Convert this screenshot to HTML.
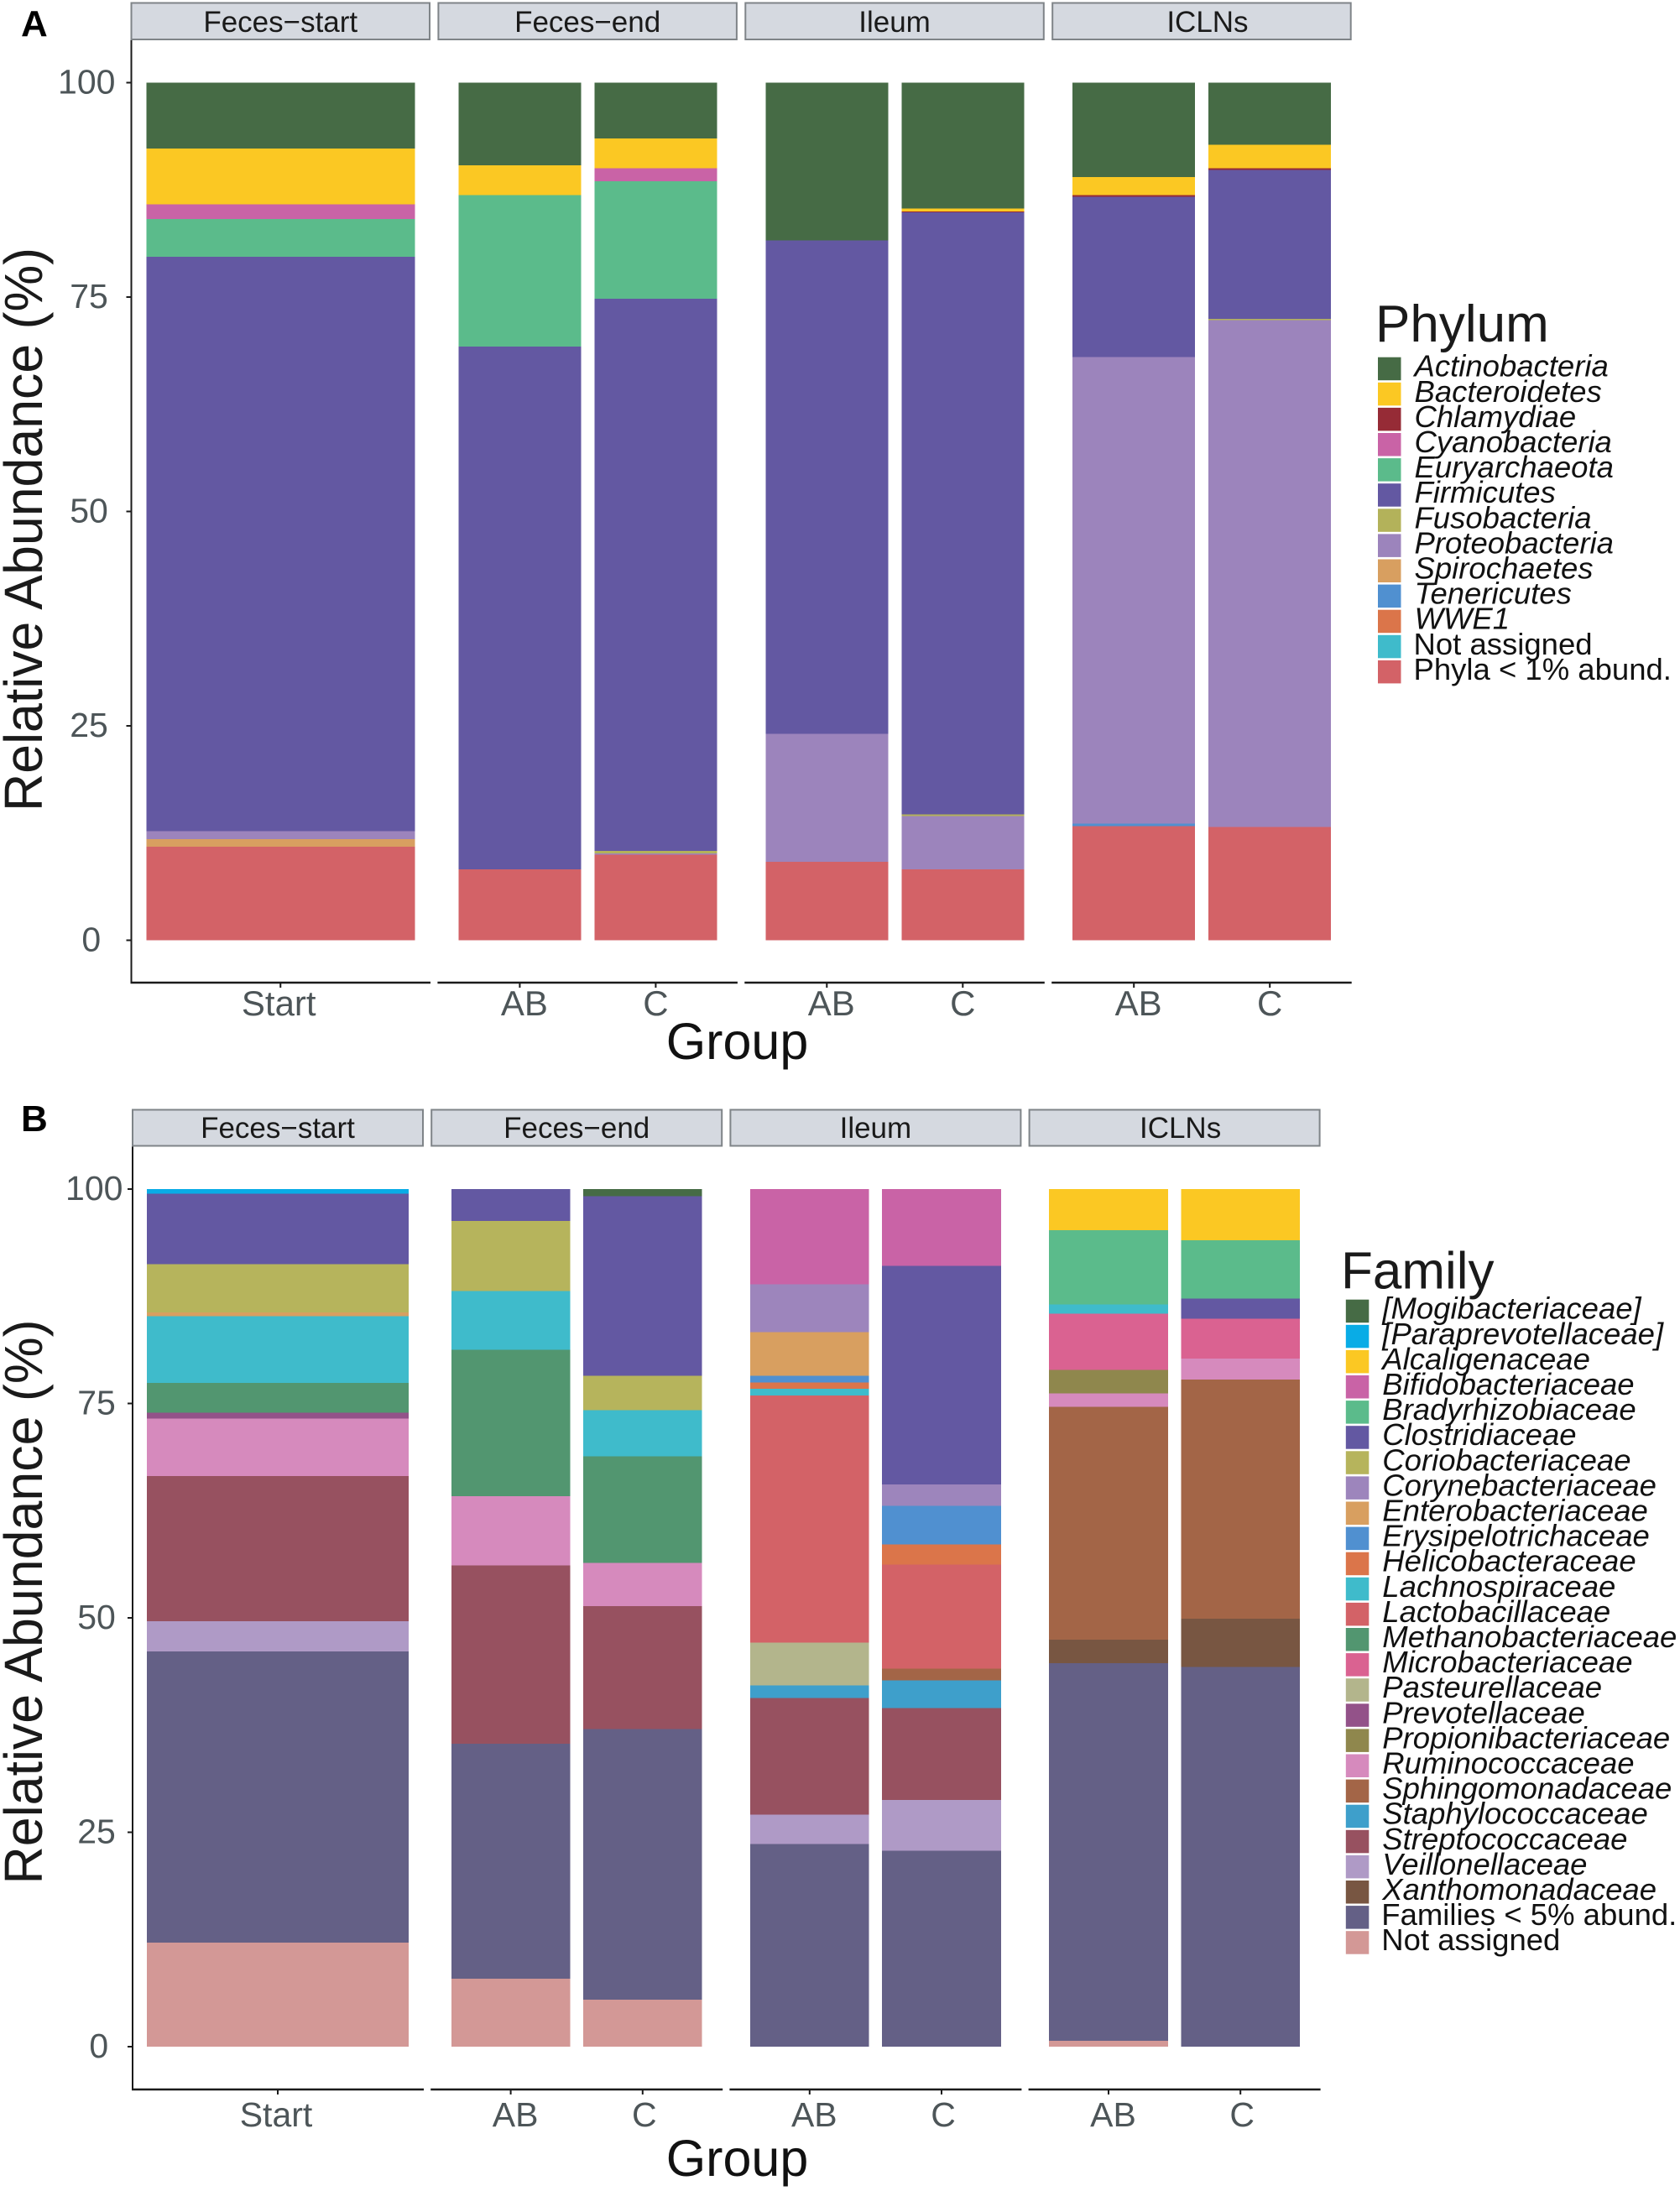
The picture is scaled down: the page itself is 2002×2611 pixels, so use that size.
<!DOCTYPE html>
<html lang="en">
<head>
<meta charset="utf-8">
<title>Relative abundance by phylum and family</title>
<style>
html,body{margin:0;padding:0;background:#fff;}
svg{display:block;font-family:"Liberation Sans",Arial,sans-serif;}
</style>
</head>
<body>
<svg id="fig" xmlns="http://www.w3.org/2000/svg" width="2002" height="2611" viewBox="0 0 2002 2611">
<rect x="0" y="0" width="2002" height="2611" fill="#ffffff"/>
<text x="25" y="43" font-size="44" font-weight="700" fill="#000">A</text>
<text x="25" y="1348" font-size="44" font-weight="700" fill="#000">B</text>
<g id="chartA"></g>
<g id="chartB"></g>
</svg>
<script>
// ---------- shared categories ----------
const facets = ["Feces\u2212start", "Feces\u2212end", "Ileum", "ICLNs"];
const facetGroups = [["Start"], ["AB", "C"], ["AB", "C"], ["AB", "C"]];
const yTickValues = [0, 25, 50, 75, 100];

// ---------- panel A: phylum ----------
const phylumNames = ["Actinobacteria","Bacteroidetes","Chlamydiae","Cyanobacteria","Euryarchaeota","Firmicutes","Fusobacteria","Proteobacteria","Spirochaetes","Tenericutes","WWE1","Not assigned","Phyla < 1% abund."];
const phylumFecesStart = [7.7,6.5,0,1.7,4.4,67,0,0.9,0.9,0,0,0,10.9];
const phylumFecesEndAB = [9.65,3.45,0,0,17.65,60.97,0,0,0,0,0,0,8.28];
const phylumFecesEndC  = [6.5,3.5,0,1.5,13.7,64.4,0.25,0.15,0,0,0,0,10];
const phylumIleumAB    = [18.4,0,0,0,0,57.54,0,14.89,0,0,0,0,9.17];
const phylumIleumC     = [14.7,0.3,0.1,0,0,70.2,0.23,6.19,0,0,0,0,8.28];
const phylumIclnAB     = [11,2.1,0.2,0,0,18.7,0,54.4,0,0.3,0,0,13.3];
const phylumIclnC      = [7.25,2.75,0.2,0,0,17.35,0.15,59.1,0,0,0,0,13.2];

// ---------- panel B: family ----------
const familyNames = ["[Mogibacteriaceae]","[Paraprevotellaceae]","Alcaligenaceae","Bifidobacteriaceae","Bradyrhizobiaceae","Clostridiaceae","Coriobacteriaceae","Corynebacteriaceae","Enterobacteriaceae","Erysipelotrichaceae","Helicobacteraceae","Lachnospiraceae","Lactobacillaceae","Methanobacteriaceae","Microbacteriaceae","Pasteurellaceae","Prevotellaceae","Propionibacteriaceae","Ruminococcaceae","Sphingomonadaceae","Staphylococcaceae","Streptococcaceae","Veillonellaceae","Xanthomonadaceae","Families < 5% abund.","Not assigned"];
const familyFecesStart = [0,0.54,0,0,0,8.23,5.6,0,0.46,0,0,7.78,0,3.46,0,0,0.7,0,6.67,0,0,16.97,3.51,0,33.95,12.13];
const familyFecesEndAB = [0,0,0,0,0,3.7,8.2,0,0,0,0,6.84,0,17.06,0,0,0,0,8.1,0,0,20.8,0,0,27.38,7.92];
const familyFecesEndC  = [0.82,0,0,0,0,20.97,3.99,0,0,0,0,5.36,0,12.44,0,0,0,0,5.06,0,0,14.31,0,0,31.56,5.49];
const familyIleumAB    = [0,0,0,11.12,0,0,0,5.56,5.11,0.74,0.74,0.78,28.84,0,0,4.99,0,0,0,0,1.44,13.62,3.42,0,23.64,0];
const familyIleumC     = [0,0,0,8.94,0,25.49,0,2.51,0,4.49,2.35,0,12.12,0,0,0,0,0,0,1.4,3.2,10.75,5.9,0,22.85,0];
const familyIclnAB     = [0,0,4.78,0,8.69,0,0,0,0,0,0,1.07,0,0,6.55,0,0,2.76,1.56,27.15,0,0,0,2.72,44.02,0.7];
const familyIclnC      = [0,0,5.97,0,6.8,2.35,0,0,0,0,0,0,0,0,4.65,0,0,0,2.43,27.88,0,0,0,5.65,44.27,0];

// ---------- palettes ----------
const phylumColors = ["#466b45","#fbc823","#962b36","#c963a6","#5bbb8b","#6358a2","#b3b25a","#9c84bc","#d89f60","#5090d0","#db754a","#3fbbcb","#d36267"];
const familyColors = ["#466b45","#09ace6","#fbc823","#c963a6","#5bbb8b","#6358a2","#b6b45c","#9d85bc","#d89f60","#5090d0","#db754a","#3fbbcb","#d36267","#529670","#da6291","#b3b58c","#935289","#8f874d","#d68abd","#a36547","#3e9fcb","#975160","#af9ac6","#785642","#646086","#d39896"];

const SVGNS = "http://www.w3.org/2000/svg";
function make(parent, tag, attrs, text) {
  const el = document.createElementNS(SVGNS, tag);
  for (const k in attrs) el.setAttribute(k, attrs[k]);
  if (text !== undefined) el.textContent = text;
  parent.appendChild(el);
  return el;
}
function slug(s) {
  return s.toLowerCase().replace(/[^a-z0-9]+/g, "-").replace(/^-|-$/g, "");
}

function drawChart(cfg) {
  const root = document.getElementById(cfg.id);
  const yScale = v => cfg.yZero - v * (cfg.yZero - cfg.yHundred) / 100;
  const panelX = i => cfg.panelLeft + i * (cfg.panelWidth + cfg.panelGap);
  const barCenter = (p, g) => {
    const n = facetGroups[p].length;
    return n === 1 ? panelX(p) + cfg.panelWidth / 2 : panelX(p) + cfg.bandStart + g * cfg.bandStep;
  };
  const barWidth = p => facetGroups[p].length === 1 ? cfg.singleBarWidth : cfg.barWidth;

  // left axis
  const yAxis = make(root, "line", {x1: panelX(0), x2: panelX(0), y1: cfg.stripBottom, y2: cfg.axisY, stroke: "#1a1a1a", "stroke-width": 2});
  
  

  yTickValues.forEach(v => {
    const tick = make(root, "line", {x1: panelX(0) - 6, x2: panelX(0), y1: yScale(v), y2: yScale(v), stroke: "#1a1a1a", "stroke-width": 2});
    
    
    const label = String(v);
    const lab = make(root, "text", {x: cfg.yLabelBase - 2.75 * label.length, y: yScale(v) + 13, "text-anchor": "middle", "font-size": 41, fill: "#4d5558"}, label);
    
    
  });

  const yTitle = make(root, "text", {transform: "translate(" + cfg.yTitleX + "," + cfg.yTitleCenter + ") rotate(-90)", "text-anchor": "middle", "font-size": 64, textLength: cfg.yTitleLength, lengthAdjust: "spacingAndGlyphs", fill: "#1a1a1a"}, "Relative Abundance (%)");
  
  

  const xTitle = make(root, "text", {x: cfg.xTitleX, y: cfg.xTitleY, "text-anchor": "middle", "font-size": 61, fill: "#111"}, "Group");
  
  

  facets.forEach((facet, p) => {
    const x = panelX(p);
    const strip = make(root, "rect", {x: x, y: cfg.stripTop, width: cfg.panelWidth, height: cfg.stripBottom - cfg.stripTop, fill: "#d5d9e0", stroke: "#7f8488", "stroke-width": 2});
    
    
    const nudge = facet === "ICLNs" ? 7 : 0;
    const stripText = make(root, "text", {x: x + cfg.panelWidth / 2 + nudge, y: cfg.stripTextY, "text-anchor": "middle", "font-size": 35, fill: "#1a1a1a"}, facet);
    
    

    const axis = make(root, "line", {x1: x - 1, x2: x + cfg.panelWidth + 1, y1: cfg.axisY, y2: cfg.axisY, stroke: "#1a1a1a", "stroke-width": 2.4});
    
    

    facetGroups[p].forEach((group, g) => {
      const cx = barCenter(p, g);
      const w = barWidth(p);
      const values = cfg.series[p][g];
      let top = 100;
      values.forEach((v, t) => {
        if (v <= 0) return;
        const rect = make(root, "rect", {x: cx - w / 2, y: yScale(top), width: w, height: yScale(top - v) - yScale(top), fill: cfg.colors[t], "shape-rendering": "crispEdges"});
        
        
        top -= v;
      });
      const tick = make(root, "line", {x1: cx, x2: cx, y1: cfg.axisY, y2: cfg.axisY + 6, stroke: "#1a1a1a", "stroke-width": 2});
      
      
      const dx = group === "AB" ? 5.5 : (group === "C" ? cfg.cNudge : -2);
      const lab = make(root, "text", {x: cx + dx, y: cfg.xLabelY, "text-anchor": "middle", "font-size": cfg.xLabelSize, fill: "#4d5558"}, group);
      
      
    });
  });

  // legend
  const legendTitle = make(root, "text", {x: cfg.legendTitleX, y: cfg.legendTitleY, "font-size": 62, fill: "#1a1a1a"}, cfg.legendTitle);
  
  
  cfg.names.forEach((name, t) => {
    const y = cfg.legendTop + t * 30.1;
    const key = make(root, "rect", {x: cfg.legendX, y: y, width: 27.5, height: 27.5, fill: cfg.colors[t]});
    
    
    const plain = t >= cfg.names.length - 2;
    const lab = make(root, "text", {x: cfg.legendX + cfg.legendTextDx - (plain ? 1 : 0), y: y + 23, "font-size": 36.5, "font-style": plain ? "normal" : "italic", fill: "#111"}, name);
    
    
  });
}

drawChart({
  id: "chartA", names: phylumNames, colors: phylumColors, legendTitle: "Phylum",
  series: [[phylumFecesStart], [phylumFecesEndAB, phylumFecesEndC], [phylumIleumAB, phylumIleumC], [phylumIclnAB, phylumIclnC]],
  yZero: 1120.5, yHundred: 98.5, axisY: 1171, stripTop: 3.5, stripBottom: 47,
  panelLeft: 156.5, panelWidth: 355.5, panelGap: 10.4,
  bandStart: 97, bandStep: 162, barWidth: 146, singleBarWidth: 320,
  yLabelBase: 111.5, yTitleX: 50, yTitleCenter: 631, yTitleLength: 672,
  xTitleX: 878.5, xTitleY: 1262, xLabelY: 1210, xLabelSize: 42, cNudge: 0,
  stripTextY: 38, legendX: 1642, legendTop: 425.7, legendTitleX: 1639, legendTitleY: 407, legendTextDx: 43.5
});
drawChart({
  id: "chartB", names: familyNames, colors: familyColors, legendTitle: "Family",
  series: [[familyFecesStart], [familyFecesEndAB, familyFecesEndC], [familyIleumAB, familyIleumC], [familyIclnAB, familyIclnC]],
  yZero: 2439, yHundred: 1417, axisY: 2490, stripTop: 1322.5, stripBottom: 1365.5,
  panelLeft: 158, panelWidth: 346, panelGap: 10.2,
  bandStart: 94.4, bandStep: 157.2, barWidth: 141.7, singleBarWidth: 312,
  yLabelBase: 120.5, yTitleX: 50, yTitleCenter: 1909, yTitleLength: 673,
  xTitleX: 878.5, xTitleY: 2593, xLabelY: 2534, xLabelSize: 41, cNudge: 2,
  stripTextY: 1356, legendX: 1603.8, legendTop: 1548.7, legendTitleX: 1598, legendTitleY: 1535.7, legendTextDx: 43.5
});
</script>
</body>
</html>
